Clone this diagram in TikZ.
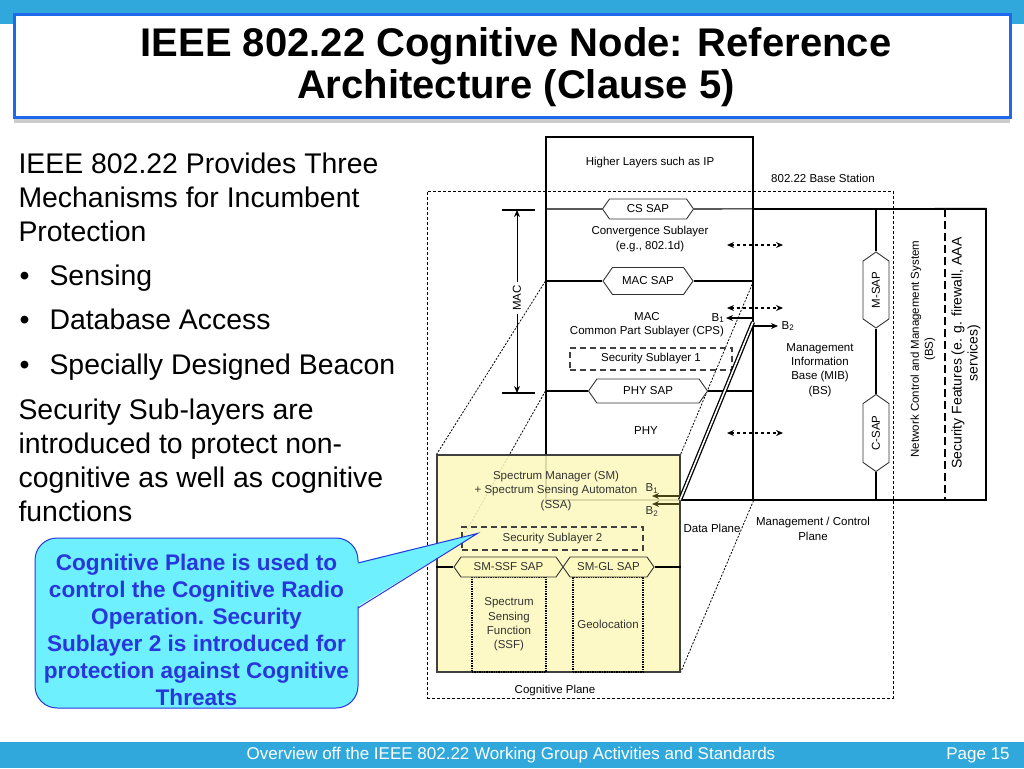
\documentclass[tikz,border=0pt]{standalone}
\usepackage{fontspec}
\setmainfont{Liberation Sans}
\usetikzlibrary{shapes.symbols, arrows.meta, positioning, shadows, backgrounds}

\definecolor{slideblue}{RGB}{48,168,220}
\definecolor{titleblue}{RGB}{30,105,235}
\definecolor{calloutcyan}{RGB}{110,240,255}
\definecolor{calloutblue}{RGB}{40,55,220}
\definecolor{cogyellow}{RGB}{252,248,190}
\definecolor{cogolive}{RGB}{70,65,20}

\begin{document}
\begin{tikzpicture}[
    x=1pt, y=-1pt, line width=1.1pt,
    every node/.style={font=\fontsize{11.5}{14.3}\selectfont, inner sep=0pt, align=center},
    body/.style={anchor=base west, font=\fontsize{28.4}{34}\selectfont},
    sap/.style={signal, signal to=east and west, signal pointer angle=110, draw=black!80, line width=0.9pt, fill=white, minimum height=20pt},
    secbox/.style={draw=black!75, dash pattern=on 6pt off 4pt, line width=1.1pt},
    funcbox/.style={draw, densely dotted, line width=1.4pt},
    basebox/.style={draw, dash pattern=on 3pt off 2pt, line width=1pt},
    perspective/.style={dash pattern=on 2pt off 1.5pt, line width=0.8pt},
    duplex/.style={{Stealth[length=7pt,width=6pt]}-{Stealth[length=7pt,width=6pt]}, dash pattern=on 3pt off 3pt, line width=1.4pt},
    barrow/.style={-{Stealth[length=7pt,width=6pt]}, line width=1.3pt},
    bline/.style={double=white, double distance=1.6pt, line width=1.3pt},
]
\useasboundingbox (0,0) rectangle (1024,768);

% title bar
\fill[slideblue] (0,0) rectangle (1024,24);
\node[draw=titleblue, line width=3pt, fill=white, minimum width=996pt, minimum height=102pt,
      drop shadow={opacity=0.4, shadow xshift=0pt, shadow yshift=-6pt}] (titlebox) at (512,66) {};
\node[font=\fontsize{40}{42}\selectfont\bfseries] (title) at (516,67) {IEEE 802.22 Cognitive Node: Reference\\Architecture (Clause 5)};

% left text
\foreach \ypos/\txt [count=\i] in {173/IEEE 802.22 Provides Three, 207/Mechanisms for Incumbent, 241/Protection}
  \node[body] (intro\i) at (18,\ypos) {\txt};
\foreach \txt [count=\i] in {Sensing, Database Access, Specially Designed Beacon} {
  \node[body] (dot\i) at (19,240.5+44.5*\i) {\textbullet};
  \node[body] (mech\i) at (49,240.5+44.5*\i) {\txt};
}
\foreach \ypos/\txt [count=\i] in {419/Security Sub-layers are, 453/introduced to protect non-, 487/cognitive as well as cognitive, 521/functions}
  \node[body] (secnote\i) at (18,\ypos) {\txt};

% base station frame
\node[basebox, minimum width=466pt, minimum height=507pt] (bs) at (660,444.5) {};
\node (bslabel) at (823,178) {802.22 Base Station};

% data plane stack
\node[draw, minimum width=207pt, minimum height=363pt] (stack) at (649.5,318.5) {};
\node[draw, minimum width=233pt, minimum height=291pt] (mgmt) at (869.5,354.5) {};

\node (higher) at (650,163) {Higher Layers such as IP};
\node[sap, minimum width=91pt] (cssap) at (648,209) {CS SAP};
\node (conv) at (650,239) {Convergence Sublayer\\(e.g., 802.1d)};
\node[sap, minimum width=90pt, minimum height=27pt] (macsap) at (648,281) {MAC SAP};
\node (cps) at (647,325) {MAC\\Common Part Sublayer (CPS)};
\node[secbox, minimum width=162pt, minimum height=22pt] (sec1) at (651,359) {Security Sublayer 1};
\node[sap, minimum width=119pt, minimum height=24pt] (physap) at (648,391) {PHY SAP};
\node (phy) at (646,431) {PHY};

\draw (stack.west |- cssap) -- (cssap.west) (cssap.east) -- (mgmt.north east);
\draw (stack.west |- macsap) -- (macsap.west) (macsap.east) -- (stack.east |- macsap);
\draw (stack.west |- physap) -- (physap.west) (physap.east) -- (stack.east |- physap);

% MAC bracket
\coordinate (mactop) at (517,210);
\coordinate (macbot) at (517,393);
\draw ([xshift=-15pt]mactop) -- ([xshift=18pt]mactop) ([xshift=-15pt]macbot) -- ([xshift=18pt]macbot);
\node[rotate=90, fill=white, inner sep=3pt] (maclabel) at (517,298) {MAC};
\draw[barrow, line width=1pt] (maclabel) -- (mactop);
\draw[barrow, line width=1pt] (maclabel) -- (macbot);

% management side
\node[sap, rotate=90, minimum width=76pt, minimum height=26pt] (msap) at (876,290) {M-SAP};
\node[sap, rotate=90, minimum width=77pt, minimum height=26pt] (csap) at (876,433) {C-SAP};
\draw (mgmt.north -| msap) -- (msap.east) (msap.west) -- (csap.east) (csap.west) -- (mgmt.south -| csap);
\coordinate (septop) at (945,209);
\coordinate (sepbot) at (945,500);
\draw[dash pattern=on 8pt off 4pt, line width=1.2pt] (septop) -- (sepbot);

\node (mib) at (820,370) {Management\\Information\\Base (MIB)\\(BS)};
\node[rotate=90, font=\fontsize{11.5}{14}\selectfont] (ncms) at (923,349) {Network Control and Management System\\(BS)};
\node[rotate=90, font=\fontsize{14}{16}\selectfont] (secfeat) at (966,353) {Security Features (e. g. firewall, AAA\\services)};

\foreach \ypos [count=\i] in {245,308,433} {
  \coordinate (duplex\i-a) at (727,\ypos);
  \coordinate (duplex\i-b) at (783,\ypos);
  \draw[duplex] (duplex\i-a) -- (duplex\i-b);
}

% cognitive plane
\node[draw=black!75, fill=cogyellow, fill opacity=0.88, minimum width=243pt, minimum height=217pt] (cog) at (558.5,563.5) {};
\node[text=black!80] (sm) at (556,491) {Spectrum Manager (SM)\\+ Spectrum Sensing Automaton\\(SSA)};
\node[secbox, minimum width=181pt, minimum height=23pt, text=black!80] (sec2) at (552.5,538.5) {Security Sublayer 2};
\node[funcbox, minimum width=74pt, minimum height=95pt, text=black!80] (ssf) at (509,624.5) {Spectrum\\Sensing\\Function\\(SSF)};
\node[funcbox, minimum width=70pt, minimum height=95pt, text=black!80] (geo) at (608,624.5) {Geolocation};
\node[sap, fill=cogyellow, minimum width=109pt, text=black!80] (ssfsap) at (508.5,567) {SM-SSF SAP};
\node[sap, fill=cogyellow, minimum width=91pt, text=black!80] (glsap) at (608.5,567) {SM-GL SAP};
\draw (cog.west |- ssfsap) -- (ssfsap.west) (glsap.east) -- (cog.east |- glsap);
\node (cogplane) at (555,691) {Cognitive Plane};

\node (dataplane) at (712,528) {Data Plane};
\node (mcplane) at (813,529) {Management / Control\\Plane};

\begin{pgfonlayer}{background}
  \draw[perspective] (stack.west |- macsap) -- (cog.north west);
  \draw[perspective] (stack.west |- physap) -- ([yshift=-13pt]sec2.north west);
  \draw[perspective] (stack.east |- macsap) -- (cog.north east);
  \draw[perspective] (stack.south east) -- (cog.south east);
\end{pgfonlayer}

% B1 / B2 link
\coordinate (blow) at (680,500);
\coordinate (bhigh) at (753,322);
\draw[bline] (blow) -- (bhigh);
\draw[barrow] ([yshift=4pt]bhigh) -- ++(-27,0) node[left=1pt] (b1mac) {B\textsubscript{1}};
\draw[barrow] ([yshift=-4pt]bhigh) -- ++(25,0) node[right=3pt] (b2mac) {B\textsubscript{2}};
\draw[barrow, cogolive] ([yshift=4pt]blow) -- ++(-28,0) node[above=2pt, text=black!80] (b1cog) {B\textsubscript{1}};
\draw[barrow, cogolive] ([yshift=-4pt]blow) -- ++(-28,0) node[below=2pt, text=black!80] (b2cog) {B\textsubscript{2}};

% callout
\node[draw=calloutblue, line width=1pt, fill=calloutcyan, rounded corners=22pt, minimum width=323pt, minimum height=170pt] (callout) at (196.5,623) {};
\node[text=calloutblue, font=\fontsize{22.6}{27}\selectfont\bfseries] (calltext) at (196.5,630)
  {Cognitive Plane is used to\\control the Cognitive Radio\\Operation. Security\\Sublayer 2 is introduced for\\protection against Cognitive\\Threats};
\coordinate (calltip) at ([xshift=16pt,yshift=-7pt]sec2.north west);
\coordinate (callbase-a) at (358,563);
\coordinate (callbase-b) at (358,608);
\fill[calloutcyan] ([xshift=-3pt]callbase-a) -- (calltip) -- ([xshift=-3pt]callbase-b) -- cycle;
\draw[calloutblue, line width=1pt] (callbase-a) -- (calltip) -- (callbase-b);

% footer
\fill[slideblue] (0,742) rectangle (1024,768);
\node[text=white, font=\fontsize{17}{19}\selectfont] (footer) at (511,755) {Overview off the IEEE 802.22 Working Group Activities and Standards};
\node[text=white, font=\fontsize{17}{19}\selectfont] (page) at (978,755) {Page 15};
\end{tikzpicture}
\end{document}
